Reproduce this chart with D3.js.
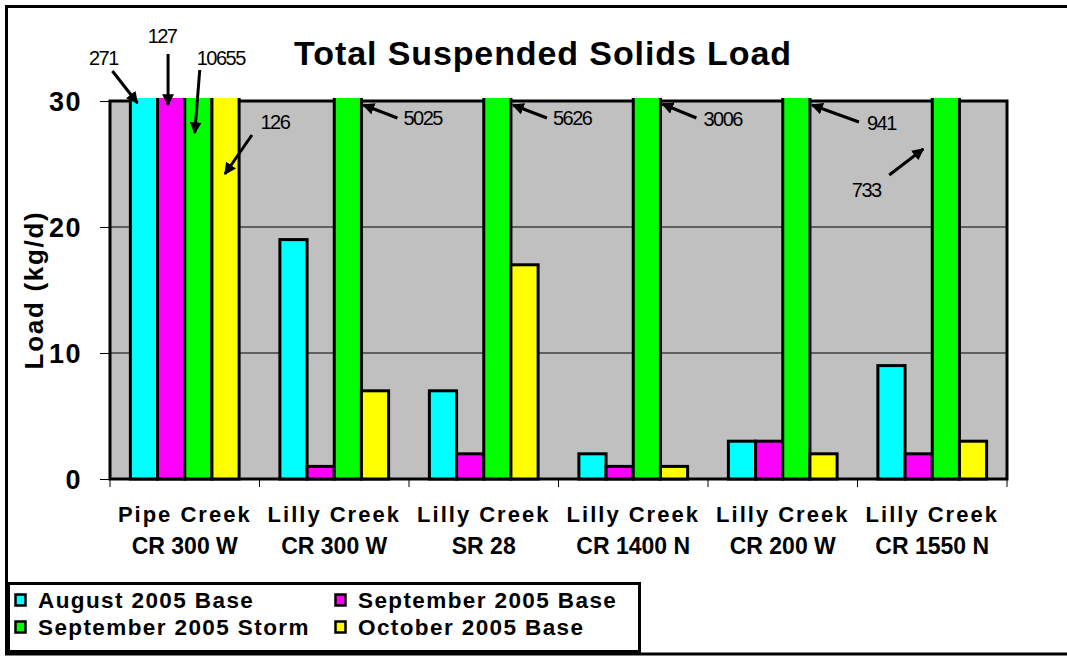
<!DOCTYPE html>
<html>
<head>
<meta charset="utf-8">
<script src="https://cdn.jsdelivr.net/npm/d3@7"></script>
<style>
    body { margin: 0; background: #fff; }
    svg { display: block; font-family: "Liberation Sans", Arial, sans-serif; }
</style>
</head>
<body>
<div id="chart"></div>
<script>
// Data ------------------------------
var site_names = ["Pipe Creek", "Lilly Creek", "Lilly Creek", "Lilly Creek", "Lilly Creek", "Lilly Creek"];
var site_roads = ["CR 300 W", "CR 300 W", "SR 28", "CR 1400 N", "CR 200 W", "CR 1550 N"];
var series_names = ["August 2005 Base", "September 2005 Base", "September 2005 Storm", "October 2005 Base"];
var series_colors = ["#00ffff", "#ff00ff", "#00ff00", "#ffff00"];
var aug_base = [271, 19, 7, 2, 3, 9];
var sep_base = [127, 1, 2, 1, 3, 2];
var sep_storm = [10655, 5025, 5626, 3006, 941, 733];
var oct_base = [126, 7, 17, 1, 2, 3];
var y_ticks = [0, 10, 20, 30];
var y_max = 30;

// off-scale bars get a callout: which bar, then arrow/label offsets
var callouts = [
    {s: 0, c: 0, side: 0, tip: [7, 2], tail: [-25, -32], label: [-9, -6], anchor: "middle"},
    {s: 1, c: 0, side: 0, tip: [10.5, 4], tail: [0, -51], label: [-6, -11], anchor: "middle"},
    {s: 2, c: 0, side: 0, tip: [10, 32], tail: [5, -63], label: [21, -5], anchor: "middle"},
    {s: 3, c: 0, side: 0, tip: [13, 73], tail: [27, -39], label: [23, -6], anchor: "middle"},
    {s: 2, c: 1, side: 1, tip: [2, 4], tail: [34, 13], label: [6, 7], anchor: "start"},
    {s: 2, c: 2, side: 1, tip: [2, 4], tail: [34, 13], label: [6, 7], anchor: "start"},
    {s: 2, c: 3, side: 1, tip: [2, 3], tail: [34, 14], label: [7, 8], anchor: "start"},
    {s: 2, c: 4, side: 1, tip: [2, 4], tail: [47, 17], label: [8, 8], anchor: "start"},
    {s: 2, c: 5, side: 0, tip: [-9, 48], tail: [-34, 26], label: [-23, 22], anchor: "middle"}
];

var all_series = [aug_base, sep_base, sep_storm, oct_base];

var margin = {top: 101, right: 60, bottom: 177, left: 110};
var total_w = 1067, total_h = 656;
var width = total_w - margin.left - margin.right;
var height = total_h - margin.top - margin.bottom;

var x = d3.scaleBand().domain(d3.range(site_names.length)).range([0, width]).paddingInner(0).paddingOuter(0);
var gap = x.bandwidth() / (series_names.length + 1.5);
var xs = d3.scaleBand().domain(d3.range(series_names.length))
    .range([gap * 0.75, x.bandwidth() - gap * 0.75]);
var y = d3.scaleLinear().domain([0, y_max]).range([height, 0]);

var svg = d3.select("#chart").append("svg")
    .attr("width", total_w)
    .attr("height", total_h);

// outer chart border (runs off right / bottom edge)
svg.append("rect")
    .attr("x", 6.5).attr("y", 6.5)
    .attr("width", total_w + 10).attr("height", 647.5)
    .attr("fill", "#fff").attr("stroke", "#000").attr("stroke-width", 3);

svg.append("text")
    .attr("x", 543).attr("y", 65)
    .attr("text-anchor", "middle")
    .style("font-size", "34px").style("font-weight", "bold")
    .style("letter-spacing", "0.9px")
    .text("Total Suspended Solids Load");

var vis = svg.append("g")
    .attr("transform", "translate(" + margin.left + "," + margin.top + ")");

// Draw the Plotting region------------------------------
vis.append("rect")
    .attr("width", width).attr("height", height)
    .attr("fill", "#c0c0c0").attr("stroke", "#000").attr("stroke-width", 3);

vis.selectAll("line.grid").data(y_ticks.filter(function (d) { return d > 0 && d < y_max; }))
    .enter().append("line").attr("class", "grid")
    .attr("x1", 0).attr("x2", width)
    .attr("y1", function (d) { return y(d); }).attr("y2", function (d) { return y(d); })
    .attr("stroke", "#000").attr("stroke-width", 1);

var yaxis = vis.append("g").call(d3.axisLeft(y).tickValues(y_ticks).tickSize(10).tickPadding(18));
yaxis.select(".domain").remove();
yaxis.selectAll("line").attr("stroke", "#000").attr("stroke-width", 1);
yaxis.selectAll("text")
    .style("font-size", "27px").style("font-weight", "bold")
    .style("font-family", "'Liberation Sans', Arial, sans-serif")
    .style("letter-spacing", "1.5px")
    .attr("dy", "0.36em");

// x ticks at category boundaries
vis.selectAll("line.xtick").data(d3.range(site_names.length + 1))
    .enter().append("line").attr("class", "xtick")
    .attr("x1", function (d) { return d * x.step(); })
    .attr("x2", function (d) { return d * x.step(); })
    .attr("y1", height).attr("y2", height + 8)
    .attr("stroke", "#000").attr("stroke-width", 1);

vis.append("text")
    .attr("transform", "rotate(-90)")
    .attr("x", -height / 2).attr("y", -margin.left + 43)
    .attr("text-anchor", "middle")
    .style("font-size", "26px").style("font-weight", "bold")
    .style("letter-spacing", "1.7px")
    .text("Load (kg/d)");

var labels = vis.selectAll("g.cat").data(site_names).enter().append("g")
    .attr("transform", function (d, i) { return "translate(" + (x(i) + x.bandwidth() / 2) + "," + height + ")"; });
labels.append("text").attr("y", 43).attr("text-anchor", "middle")
    .style("font-size", "22px").style("font-weight", "bold").style("letter-spacing", "2px")
    .text(function (d) { return d; });
labels.append("text").attr("y", 75).attr("text-anchor", "middle")
    .style("font-size", "23px").style("font-weight", "bold")
    .text(function (d, i) { return site_roads[i]; });

// End Draw the Plotting region------------------------------

vis.append("clipPath").attr("id", "bar_clip")
    .append("rect").attr("x", -2).attr("y", -3).attr("width", width + 4).attr("height", height + 6);

var bars = vis.append("g").attr("clip-path", "url(#bar_clip)");
all_series.forEach(function (vals, s) {
    bars.selectAll("rect.s" + s).data(vals).enter().append("rect")
        .attr("class", "s" + s)
        .attr("x", function (d, i) { return x(i) + xs(s); })
        .attr("width", xs.bandwidth())
        .attr("y", function (d) { return y(Math.min(d, y_max + 2)); })
        .attr("height", function (d) { return height - y(Math.min(d, y_max + 2)); })
        .attr("fill", series_colors[s])
        .attr("stroke", "#000").attr("stroke-width", 3);
});

// callouts ------------------------------
svg.append("defs").append("marker")
    .attr("id", "arrowhead")
    .attr("viewBox", "0 0 10 10")
    .attr("refX", 9).attr("refY", 5)
    .attr("markerWidth", 4).attr("markerHeight", 4)
    .attr("markerUnits", "strokeWidth")
    .attr("orient", "auto")
    .append("path").attr("d", "M0,0 L10,5 L0,10 z").attr("fill", "#000");

callouts.forEach(function (c) {
    var bx = x(c.c) + xs(c.s) + (c.side ? xs.bandwidth() : 0);
    var tx = bx + c.tip[0], ty = y(y_max) + c.tip[1];
    var sx = tx + c.tail[0], sy = ty + c.tail[1];
    vis.append("line")
        .attr("x1", sx).attr("y1", sy).attr("x2", tx).attr("y2", ty)
        .attr("stroke", "#000").attr("stroke-width", 3)
        .attr("marker-end", "url(#arrowhead)");
    vis.append("text")
        .attr("x", sx + c.label[0]).attr("y", sy + c.label[1])
        .attr("text-anchor", c.anchor)
        .style("font-size", "20px").style("letter-spacing", "-1.5px")
        .text(all_series[c.s][c.c]);
});

// legend ------------------------------
var legend = svg.append("g");
legend.append("rect")
    .attr("x", 8.5).attr("y", 583.5).attr("width", 631).attr("height", 68)
    .attr("fill", "#fff").attr("stroke", "#000").attr("stroke-width", 3);

var leg_items = legend.selectAll("g.item").data(series_names).enter().append("g")
    .attr("transform", function (d, i) { return "translate(" + (i % 2 ? 335 : 15) + "," + (i < 2 ? 600 : 627) + ")"; });
leg_items.append("rect")
    .attr("x", 0.5).attr("y", -5.5).attr("width", 10).attr("height", 11)
    .attr("fill", function (d, i) { return series_colors[i]; })
    .attr("stroke", "#000").attr("stroke-width", 2.5);
leg_items.append("text")
    .attr("x", 23).attr("y", 8)
    .style("font-size", "22.5px").style("font-weight", "bold").style("letter-spacing", "1.4px")
    .text(function (d) { return d; });
</script>
</body>
</html>
